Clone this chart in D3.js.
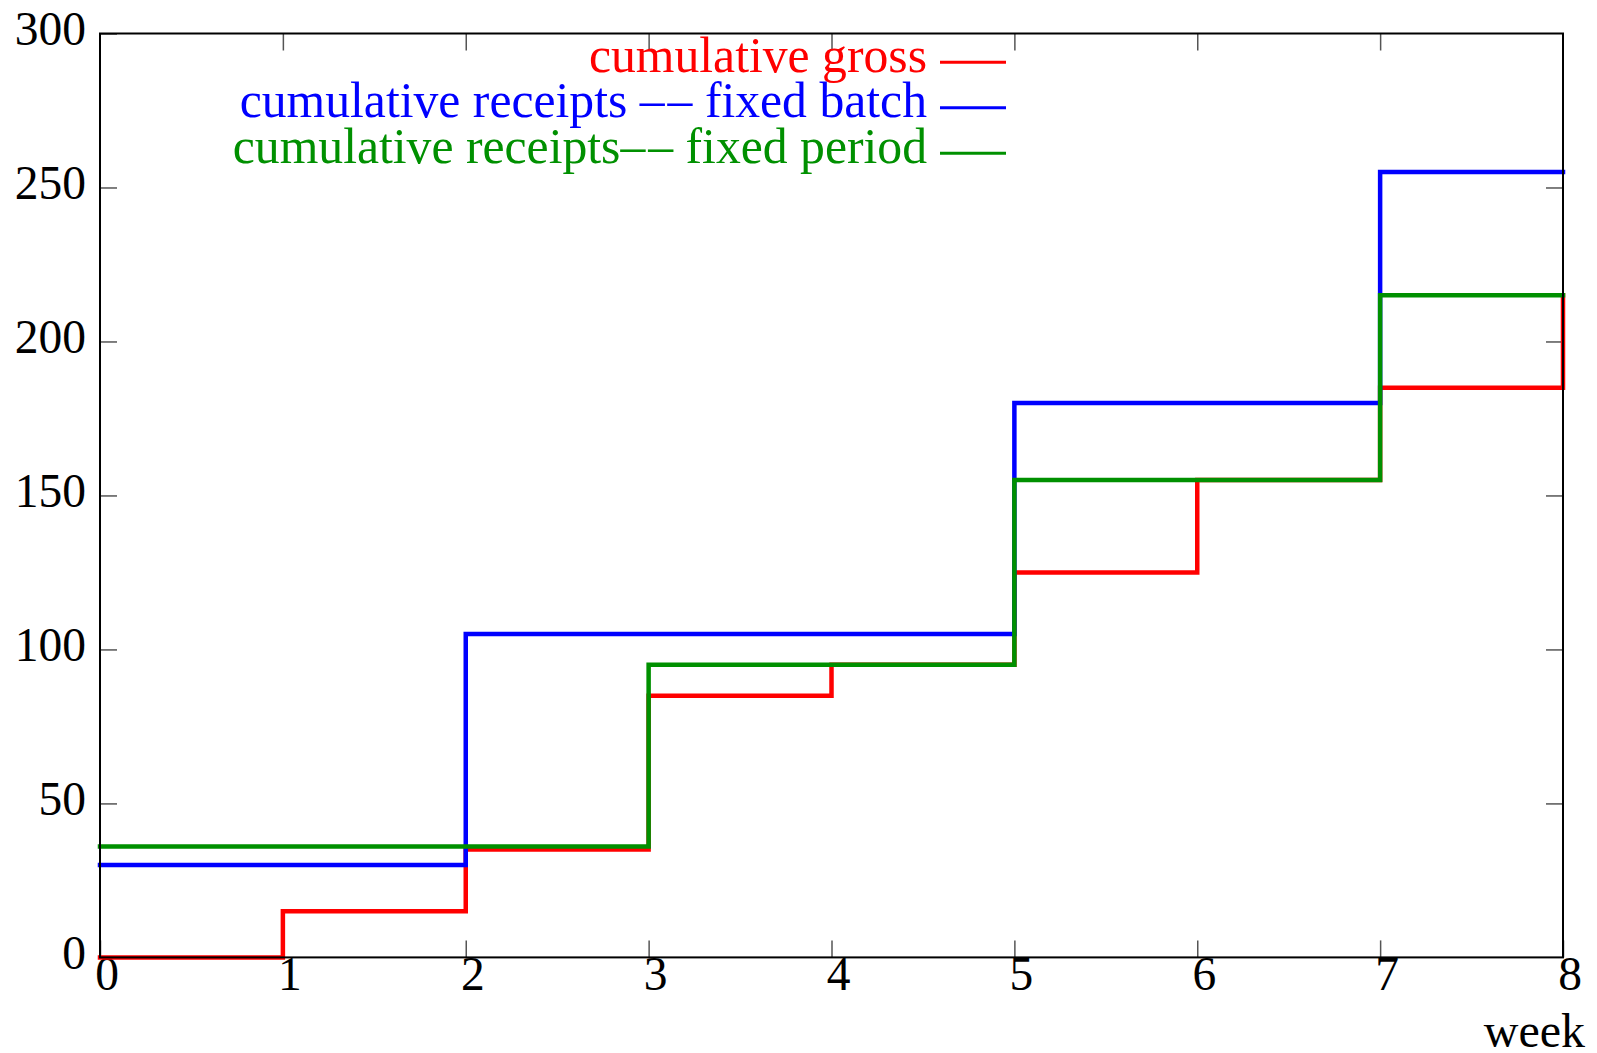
<!DOCTYPE html>
<html>
<head>
<meta charset="utf-8">
<script src="https://cdn.jsdelivr.net/npm/d3@7"></script>
<style>
  html, body { margin: 0; padding: 0; background: #fff; }
  svg { display: block; }
  text { font-family: "Liberation Serif", "Times New Roman", serif; }
</style>
</head>
<body>
<svg id="chart" width="1597" height="1053"></svg>
<script>
const weeks = [0, 1, 2, 3, 4, 5, 6, 7, 8];
const cumulativeGross = [0, 15, 35, 85, 95, 125, 155, 185, 215];
const receiptsFixedBatch = [30, 30, 105, 105, 105, 180, 180, 255, 255];
const receiptsFixedPeriod = [36, 36, 36, 95, 95, 155, 155, 215, 215];
// legend labels split around the double dash so the two dashes can be spaced apart
const legendParts = [
  ["cumulative gross"],
  ["cumulative receipts \u2013", "\u2013", " fixed batch"],
  ["cumulative receipts\u2013", "\u2013", " fixed period"]
];
const seriesColors = ["#ff0000", "#0000ff", "#009000"];
const xTicks = [0, 1, 2, 3, 4, 5, 6, 7, 8];
const yTicks = [0, 50, 100, 150, 200, 250, 300];
const xLabel = "week";

(function () {
const series = [cumulativeGross, receiptsFixedBatch, receiptsFixedPeriod];

const svg = d3.select("#chart");
const mLeft = 100, mRight = 1563, mTop = 33.5, mBottom = 957.4;
const fs = 47.5;

const x = d3.scaleLinear().domain([0, 8]).range([mLeft, mRight]);
const y = d3.scaleLinear().domain([0, 300]).range([mBottom, mTop]);

const tickLen = 17;
function styleTicks(g) {
  g.select(".domain").remove();
  g.selectAll(".tick line").attr("stroke", "#555").attr("stroke-width", 1.5);
}
svg.append("g").attr("transform", `translate(0,${mBottom})`)
  .call(d3.axisBottom(x).tickValues(xTicks).tickSize(-tickLen).tickFormat(d3.format("d")))
  .call(styleTicks)
  .call(g => g.selectAll(".tick text")
    .attr("y", 33).attr("dy", 0).attr("x", 6.5)
    .attr("fill", "#000").style("font-size", fs + "px")
    .style("font-family", '"Liberation Serif", serif'));
svg.append("g").attr("transform", `translate(0,${mTop})`)
  .call(d3.axisTop(x).tickValues(xTicks.slice(1, -1)).tickSize(-tickLen).tickFormat(""))
  .call(styleTicks);
svg.append("g").attr("transform", `translate(${mLeft},0)`)
  .call(d3.axisLeft(y).tickValues(yTicks).tickSize(-tickLen).tickFormat(d3.format("d")))
  .call(styleTicks)
  .call(g => g.selectAll(".tick text")
    .attr("x", -14).attr("dy", 0).attr("y", 11)
    .attr("fill", "#000").style("font-size", fs + "px")
    .style("font-family", '"Liberation Serif", serif'));
svg.append("g").attr("transform", `translate(${mRight},0)`)
  .call(d3.axisRight(y).tickValues(yTicks.slice(1, -1)).tickSize(-tickLen).tickFormat(""))
  .call(styleTicks);

const line = d3.line().curve(d3.curveStepAfter).x((d, i) => x(weeks[i])).y(d => y(d));
series.forEach((s, k) => {
  svg.append("path").datum(s)
    .attr("d", line)
    .attr("fill", "none")
    .attr("stroke", seriesColors[k])
    .attr("stroke-width", 4.5)
    .attr("stroke-linejoin", "miter")
    .attr("stroke-linecap", "square");
});

svg.append("rect")
  .attr("x", mLeft).attr("y", mTop)
  .attr("width", mRight - mLeft).attr("height", mBottom - mTop)
  .attr("fill", "none").attr("stroke", "#000").attr("stroke-width", 2);

const legBase = [71.7, 117.3, 162.8];
legendParts.forEach((parts, k) => {
  const t = svg.append("text")
    .attr("x", 927).attr("y", legBase[k])
    .attr("text-anchor", "end")
    .attr("fill", seriesColors[k])
    .style("font-size", "49.7px");
  parts.forEach((p, j) => {
    const ts = t.append("tspan").text(p);
    if (parts.length > 1 && j === 1) ts.attr("dx", 3);
  });
  svg.append("line")
    .attr("x1", 940).attr("x2", 1006)
    .attr("y1", legBase[k] - 9.5).attr("y2", legBase[k] - 9.5)
    .attr("stroke", seriesColors[k]).attr("stroke-width", 3);
});

svg.append("text")
  .attr("x", 1585).attr("y", 1047)
  .attr("text-anchor", "end")
  .attr("fill", "#000")
  .style("font-size", "48px")
  .text(xLabel);
})();
</script>
</body>
</html>
